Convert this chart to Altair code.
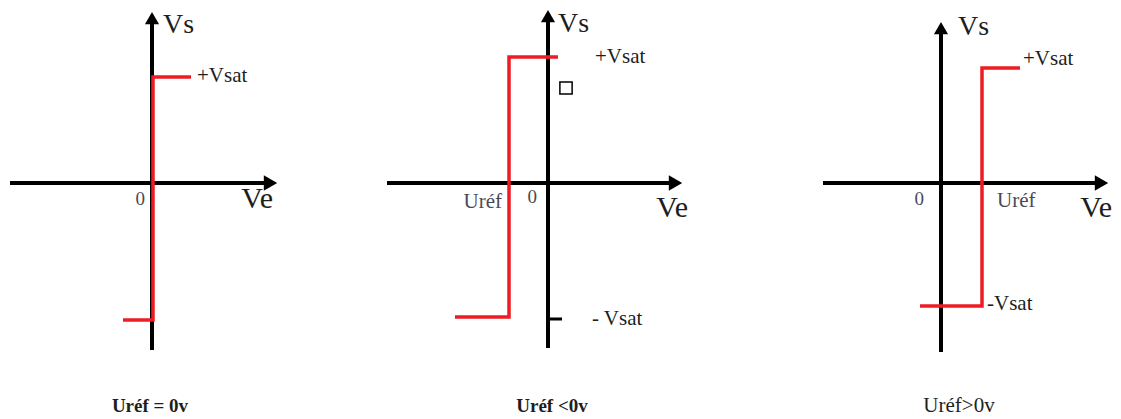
import altair as alt
import pandas as pd

# ---- data (arbitrary volt-like units) ----
titles = ["Uréf = 0v", "Uréf <0v", "Uréf>0v"]
title_weight = ["bold", "bold", "normal"]
uref = [0.1, -3.9, 4.1]            # switching point on Ve axis
vsat_pos = [10.6, 12.6, 11.5]      # +Vsat level
vsat_neg = [-13.7, -13.4, -12.3]   # -Vsat level
ve_left = [-2.9, -9.3, -2.1]       # left end of the -Vsat segment
ve_right = [3.9, 1.0, 7.9]         # right end of the +Vsat segment
h_axis_start = [-14.2, -16.1, -11.8]
h_axis_tip = [12.5, 13.4, 16.7]
v_axis_bottom = [-16.7, -16.5, -16.9]
v_axis_tip = [17.1, 17.3, 16.1]
# extras of the middle panel
tick_vs = -13.6
tick_ve_end = 1.4
square_ve = 1.8
square_vs = 9.5

# ---- layout ----
panel_w = [362, 420, 323]
panel_h = 403
x_domains = [[-14.4, 21.8], [-17.8, 24.2], [-15.1, 17.2]]
y_domain = [-22.8, 17.5]
ARROW_BACK = 0.65
RED = "#ee1c24"
FONT = "'Liberation Serif', 'Times New Roman', serif"
TXT = "#1e1e1e"
GRAY = "#4a4a55"

# label specs: (text, anchor key, dx, dy, size, align, color)
label_specs = [
    [("Vs", "vtip", 11, 21, 28, "left", TXT),
     ("+Vsat", "pos_end", 6, 5, 21, "left", TXT),
     ("0", "origin", -7, 22, 19, "right", GRAY),
     ("Ve", "htip", -4, 25, 30, "right", TXT)],
    [("Vs", "vtip", 10, 22, 28, "left", TXT),
     ("+Vsat", "pos_end", 37, 6, 21, "left", TXT),
     ("- Vsat", "tick_end", 30, 6, 21, "left", TXT),
     ("Uréf", "uref", -7, 25, 21, "right", GRAY),
     ("0", "origin", -11, 20, 19, "right", GRAY),
     ("Ve", "htip", 6, 34, 30, "right", TXT)],
    [("Vs", "vtip", 17, 13, 28, "left", TXT),
     ("+Vsat", "pos_end", 3, -3, 21, "left", TXT),
     ("-Vsat", "neg_corner", 5, 4, 21, "left", TXT),
     ("0", "origin", -17, 22, 19, "right", GRAY),
     ("Uréf", "uref", 15, 24, 21, "left", GRAY),
     ("Ve", "htip", 4, 34, 30, "right", TXT)],
]
title_dx = [-2, 4, 18]
title_size = [19, 19, 21]


def panel(i):
    xs = alt.Scale(domain=x_domains[i], nice=False, zero=False)
    ys = alt.Scale(domain=y_domain, nice=False, zero=False)
    X = lambda f: alt.X(f, type="quantitative", scale=xs, axis=None)
    Y = lambda f: alt.Y(f, type="quantitative", scale=ys, axis=None)

    # black axes
    axes_df = pd.DataFrame({
        "x": [h_axis_start[i], 0.0],
        "x2": [h_axis_tip[i] - ARROW_BACK, 0.0],
        "y": [0.0, v_axis_bottom[i]],
        "y2": [0.0, v_axis_tip[i] - ARROW_BACK],
    })
    axes = alt.Chart(axes_df).mark_rule(color="black", strokeWidth=4).encode(
        x=X("x"), x2="x2", y=Y("y"), y2="y2")

    arrow_r = alt.Chart(pd.DataFrame({"x": [h_axis_tip[i]], "y": [0.0]})).mark_point(
        shape="triangle-right", filled=True, size=240, color="black", opacity=1,
        xOffset=-6.5).encode(x=X("x"), y=Y("y"))
    arrow_u = alt.Chart(pd.DataFrame({"x": [0.0], "y": [v_axis_tip[i]]})).mark_point(
        shape="triangle-up", filled=True, size=200, color="black", opacity=1,
        yOffset=6.1).encode(x=X("x"), y=Y("y"))

    # red transfer characteristic
    red_df = pd.DataFrame({
        "ve": [ve_left[i], uref[i], uref[i], ve_right[i]],
        "vs": [vsat_neg[i], vsat_neg[i], vsat_pos[i], vsat_pos[i]],
        "k": [0, 1, 2, 3],
    })
    red = alt.Chart(red_df).mark_line(color=RED, strokeWidth=3.5, strokeJoin="miter",
                                      strokeCap="butt").encode(
        x=X("ve"), y=Y("vs"), order="k:Q")

    layers = [axes, arrow_r, arrow_u, red]

    if i == 1:
        tick = alt.Chart(pd.DataFrame({"x": [0.0], "x2": [tick_ve_end], "y": [tick_vs]})).mark_rule(
            color="black", strokeWidth=3).encode(x=X("x"), x2="x2", y=Y("y"))
        sq = alt.Chart(pd.DataFrame({"x": [square_ve], "y": [square_vs]})).mark_point(
            shape="square", size=150, filled=False, fill="white", color="black",
            strokeWidth=1.5, opacity=1).encode(x=X("x"), y=Y("y"))
        layers += [tick, sq]

    anchors = {
        "vtip": (0.0, v_axis_tip[i]),
        "htip": (h_axis_tip[i], 0.0),
        "origin": (0.0, 0.0),
        "pos_end": (ve_right[i], vsat_pos[i]),
        "neg_corner": (uref[i], vsat_neg[i]),
        "uref": (uref[i], 0.0),
        "tick_end": (tick_ve_end, tick_vs),
    }
    for text, key, dx, dy, size, align, color in label_specs[i]:
        ax, ay = anchors[key]
        layers.append(alt.Chart(pd.DataFrame({"x": [ax], "y": [ay], "t": [text]})).mark_text(
            align=align, baseline="alphabetic", dx=dx, dy=dy, fontSize=size, font=FONT,
            color=color).encode(x=X("x"), y=Y("y"), text="t:N"))

    layers.append(alt.Chart(pd.DataFrame({"x": [0.0], "t": [titles[i]]})).mark_text(
        align="center", baseline="alphabetic", dx=title_dx[i], fontSize=title_size[i], font=FONT,
        fontWeight=title_weight[i], color=TXT).encode(
        x=X("x"), y=alt.value(panel_h + 1), text="t:N"))

    return alt.layer(*layers).properties(width=panel_w[i], height=panel_h)


chart = alt.hconcat(panel(0), panel(1), panel(2), spacing=0, bounds="flush").properties(
    padding=0
).configure_view(stroke=None)

chart.save("out.html", embed_options={"renderer": "svg", "actions": False})
